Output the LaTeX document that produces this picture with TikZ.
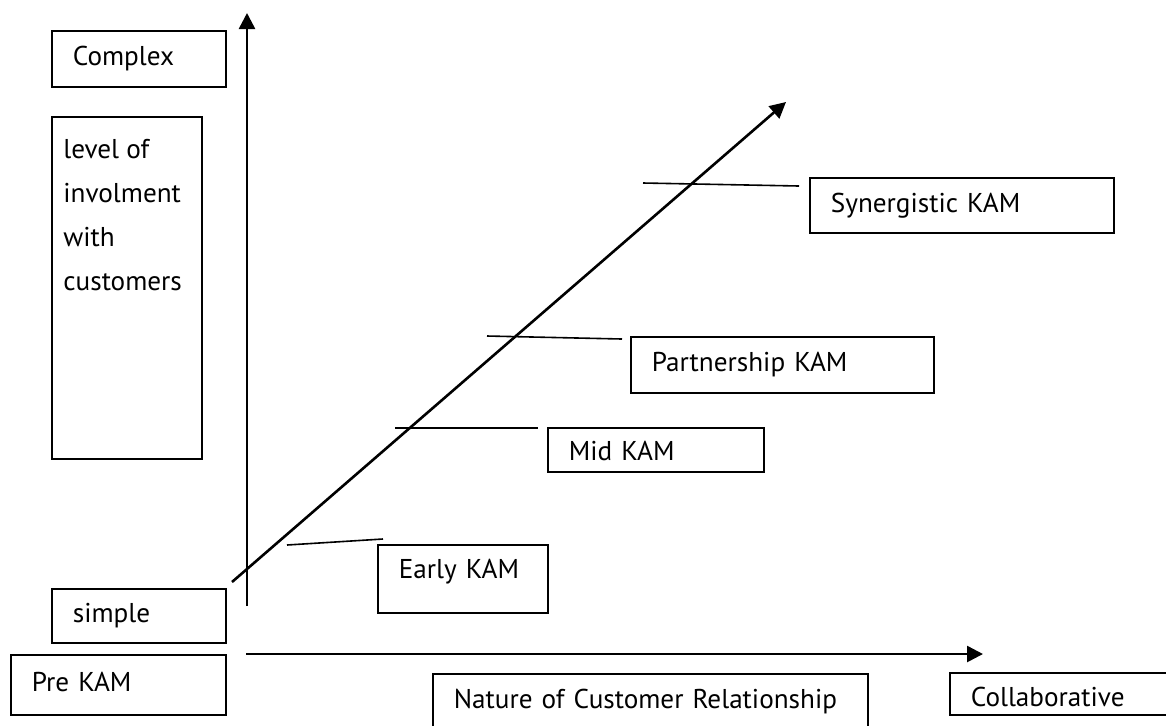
\documentclass[tikz,border=0pt]{standalone}
\usepackage{fontspec}
\setmainfont{PT Sans}
\usetikzlibrary{arrows.meta}

\begin{document}
\begin{tikzpicture}[x=0.5pt, y=-0.5pt,
                    every node/.style={font=\fontsize{13.6}{22}\selectfont},
                    kambox/.style={draw=black, line width=0.9pt, rectangle, anchor=north west,
                                   inner xsep=10.5pt, inner ysep=0pt, align=left,
                                   text height=10pt, text depth=3pt},
                    axis/.style={line width=1.3pt, -{Triangle[length=8pt,width=8pt]}},
                    tick/.style={line width=0.8pt}]

    \useasboundingbox (0,0) rectangle (1166,725);

    % Define nodes (left column)
    \node[kambox, text width=66pt, minimum height=28pt] (complex) at (51,30) {Complex}; % top of y axis
    \node[kambox, minimum width=75pt, minimum height=171pt] (level) at (51,116) {}; % axis label box
    \node[anchor=north west, align=left, inner sep=0pt] (levelText) at ([xshift=6pt, yshift=-11.5pt]level.north west) {level of\\involment\\with\\customers};
    \node[kambox, text width=66pt, minimum height=27pt] (simple) at (51,588) {simple}; % bottom of y axis
    \node[kambox, text width=86.5pt, minimum height=30pt] (preKAM) at (10,654) {Pre KAM}; % origin

    % Define nodes (stages)
    \node[kambox, text width=64pt, minimum height=34pt, text depth=10pt] (earlyKAM) at (377,544) {Early KAM};
    \node[kambox, text width=87pt, minimum height=22pt, text height=14pt] (midKAM) at (547,427) {Mid KAM};
    \node[kambox, text width=130.5pt, minimum height=28pt] (partnerKAM) at (630,336) {Partnership KAM};
    \node[kambox, text width=131pt, minimum height=27.5pt] (synergyKAM) at (809,177) {Synergistic KAM};

    % Define nodes (x axis)
    \node[kambox, text width=196.5pt, minimum height=27.5pt] (nature) at (432,673) {Nature of Customer Relationship};
    \node[kambox, text width=119pt, minimum height=21pt, text height=16pt] (collab) at (949,672) {Collaborative};

    % Axis and tick ends
    \coordinate (yBottom) at (247,606);
    \coordinate (yTop) at (247,13);
    \coordinate (xLeft) at (246,654);
    \coordinate (xRight) at (983,654);
    \coordinate (dStart) at (232,582);
    \coordinate (dEnd) at (786,102);
    \coordinate (earlyA) at (287,545);
    \coordinate (earlyB) at (383,539);
    \coordinate (midA) at (395,428);
    \coordinate (midB) at (538,428);
    \coordinate (partnerA) at (487,336);
    \coordinate (partnerB) at (622,339);
    \coordinate (synergyA) at (643,183);
    \coordinate (synergyB) at (799,186);

    % Define edges
    \draw [axis] (yBottom) -- (yTop);
    \draw [axis] (xLeft) -- (xRight);
    \draw [axis] (dStart) -- (dEnd);
    \draw [tick] (earlyA) -- (earlyB);
    \draw [tick] (midA) -- (midB);
    \draw [tick] (partnerA) -- (partnerB);
    \draw [tick] (synergyA) -- (synergyB);
\end{tikzpicture}
\end{document}
